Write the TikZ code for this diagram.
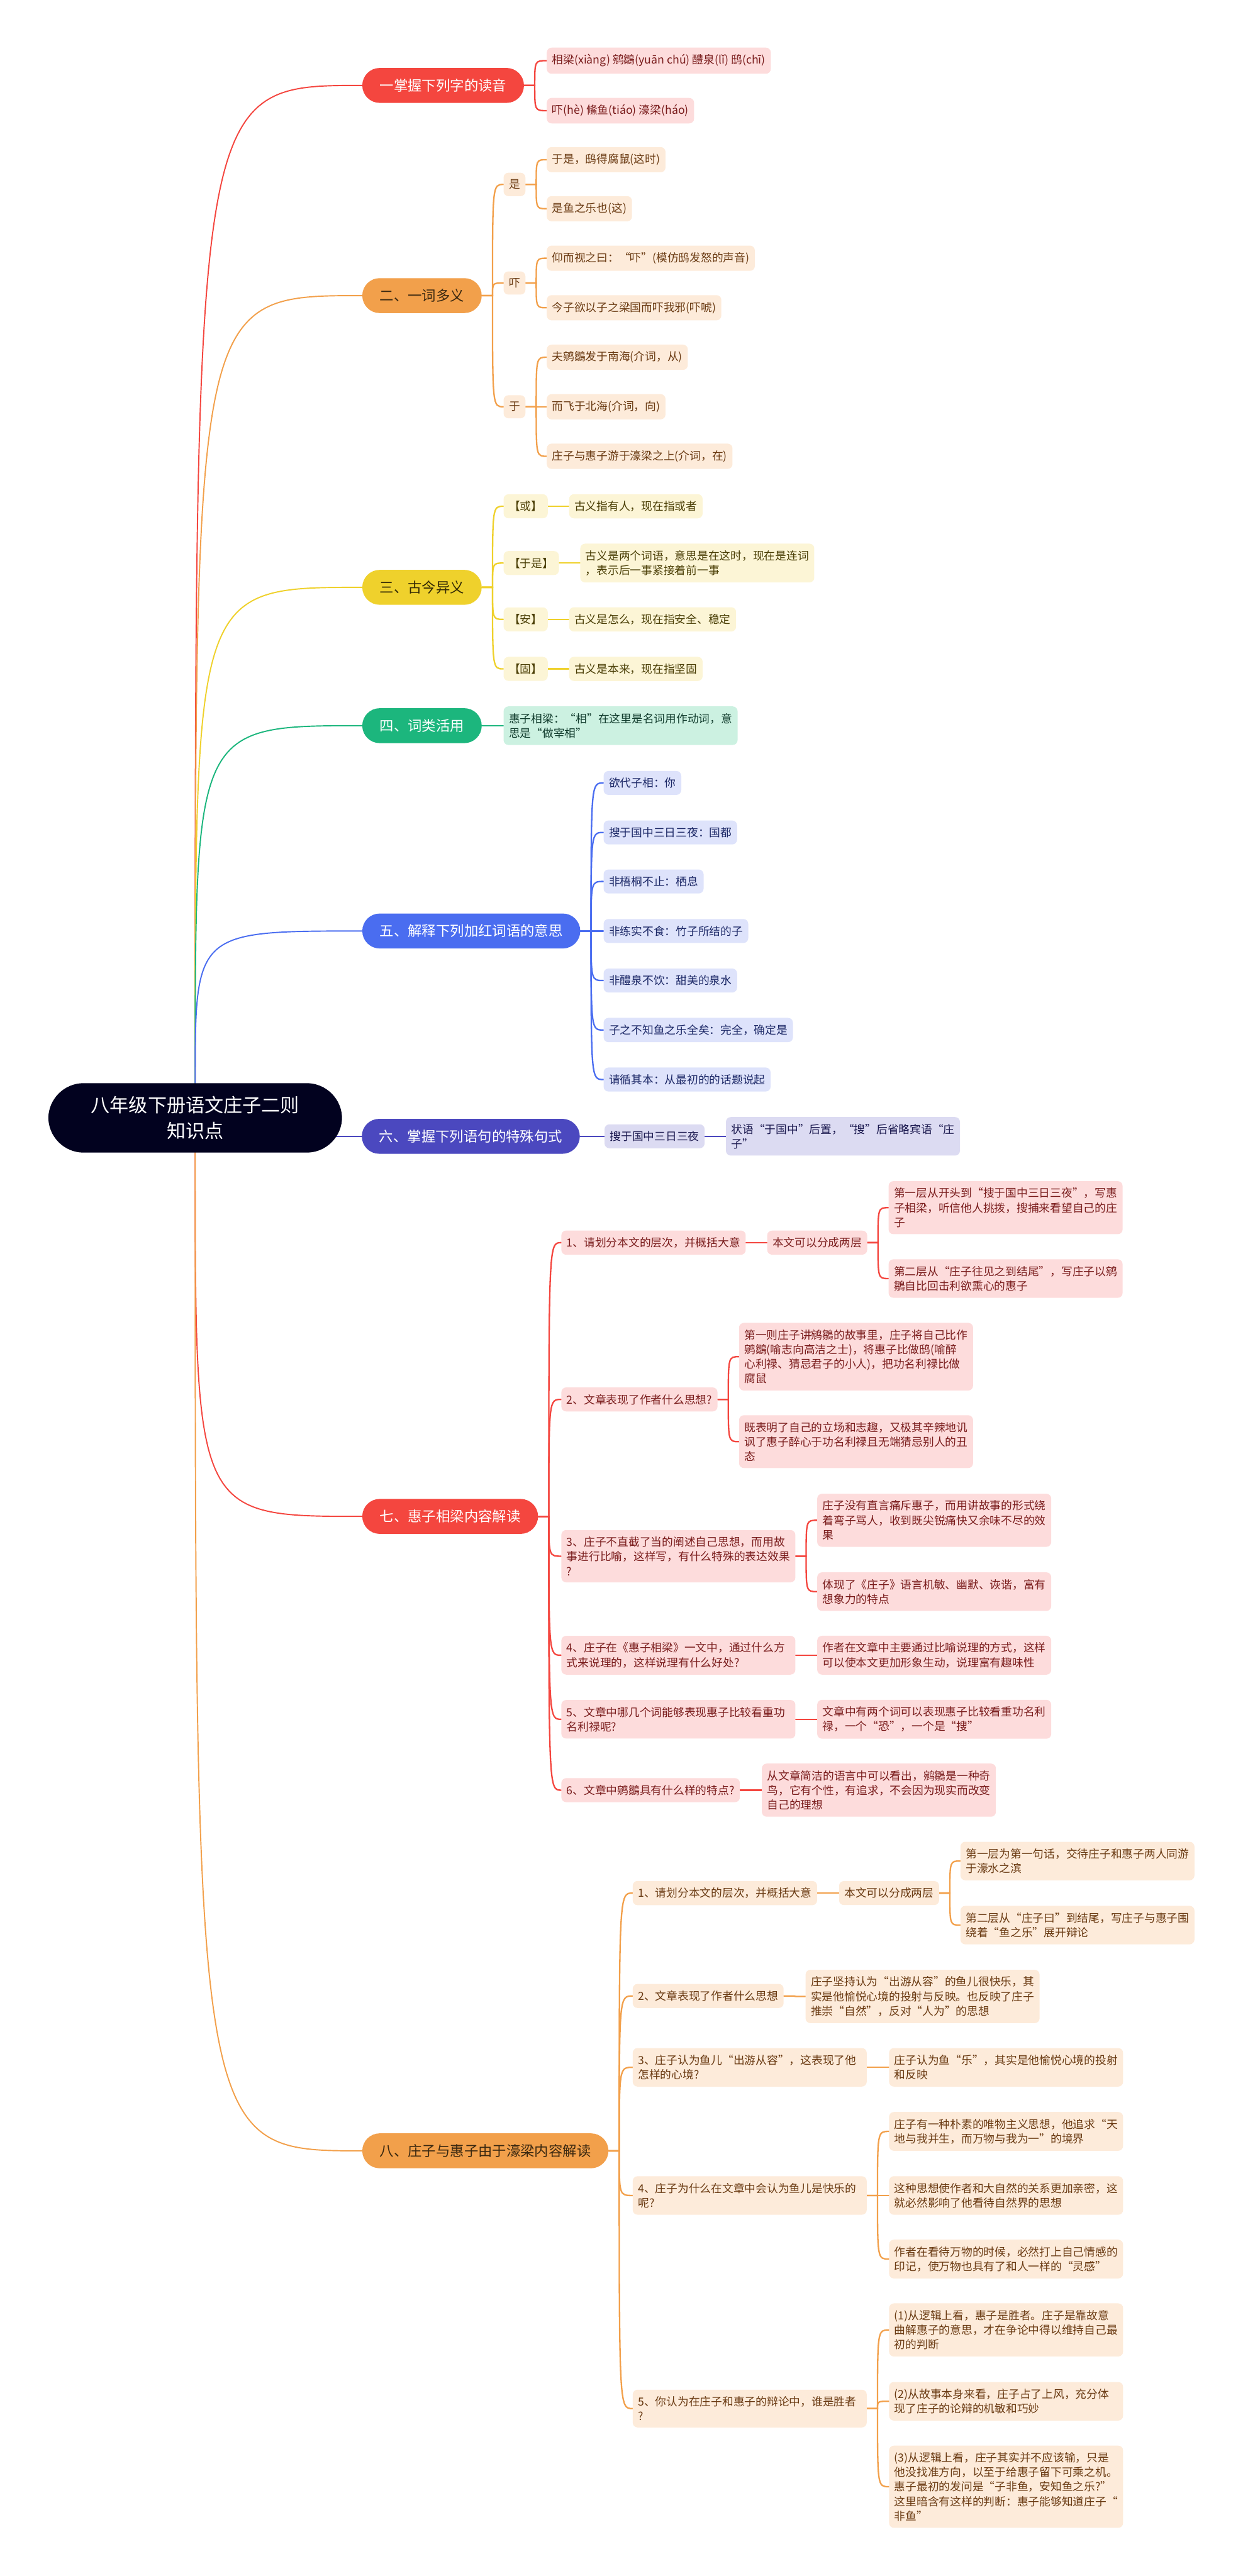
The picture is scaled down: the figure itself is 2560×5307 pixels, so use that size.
\documentclass[tikz,border=0pt]{standalone}
\usepackage{fontspec}
\setmainfont{Noto Sans CJK SC}
\usepackage{tikz}
\usetikzlibrary{positioning,calc,backgrounds}

% 颜色
\definecolor{zhong}{HTML}{02021F}
\definecolor{hong}{HTML}{F4463F}
\definecolor{hongdan}{HTML}{FDDCDC}
\definecolor{hongzi}{HTML}{7A1C1C}
\definecolor{cheng}{HTML}{F2A04B}
\definecolor{chengdan}{HTML}{FDEBDA}
\definecolor{chengzi}{HTML}{6A3A12}
\definecolor{chengshen}{HTML}{3A2810}
\definecolor{huang}{HTML}{EFD12C}
\definecolor{huangdan}{HTML}{FCF5D6}
\definecolor{huangzi}{HTML}{4A3E05}
\definecolor{huangshen}{HTML}{332A05}
\definecolor{lv}{HTML}{1CB67D}
\definecolor{lvdan}{HTML}{CCF1E1}
\definecolor{lvzi}{HTML}{0F3A2B}
\definecolor{lan}{HTML}{4A6DF0}
\definecolor{landan}{HTML}{DEE3FB}
\definecolor{lanzi}{HTML}{1B2766}
\definecolor{dian}{HTML}{4B48BF}
\definecolor{diandan}{HTML}{DCDBF2}
\definecolor{dianzi}{HTML}{1C1A50}

\tikzset{
  genjie/.style={fill=zhong, text=white, rounded corners=73pt, inner xsep=88pt,
    inner ysep=27pt, align=center, font=\fontsize{39}{53}\selectfont},
  zhuti/.style={anchor=west, rounded corners=36pt, minimum height=72pt,
    inner xsep=36pt, inner ysep=0pt, font=\fontsize{29}{36}\selectfont},
  yezi/.style={anchor=west, rounded corners=10pt, inner xsep=11pt,
    inner ysep=14pt, align=left, font=\fontsize{23}{30}\selectfont},
  kuan/.style={text width=460pt},
  hongye/.style={yezi, fill=hongdan, text=hongzi},
  chengye/.style={yezi, fill=chengdan, text=chengzi},
  huangye/.style={yezi, fill=huangdan, text=huangzi},
  lvye/.style={yezi, fill=lvdan, text=lvzi},
  lanye/.style={yezi, fill=landan, text=lanzi},
  dianye/.style={yezi, fill=diandan, text=dianzi},
  lianjie/.style={line width=3pt, line cap=round},
}

% 父节点 -> 子节点的连线
\newcommand{\lianxian}[3]{%
  \path (#2.east) ++(22,0) coordinate (zhuan);
  \draw[lianjie,#1] (#2.east) -- (zhuan) .. controls (zhuan |- #3.west) .. (#3.west);}
% 根节点 -> 主题的连线
\newcommand{\genxian}[3]{%
  \draw[lianjie,line width=2.5pt,#1] (#2) .. controls (#2 |- #3.west) .. (#3.west);}

\begin{document}
\begin{tikzpicture}[x=1pt,y=-1pt]
  \useasboundingbox (0,0) rectangle (2560,5307);

  % 根
  \node[genjie] (gen) at (402,2303) {八年级下册语文庄子二则\\知识点};

  % 一
  \node[zhuti, fill=hong, text=white] (b1) at (746,176) {一掌握下列字的读音};
  \node[hongye] (b1a) at (1126,125) {相梁(xiàng) 鹓鶵(yuān chú) 醴泉(lǐ) 鸱(chī)};
  \node[hongye] (b1b) at (1126,228) {吓(hè) 鯈鱼(tiáo) 濠梁(háo)};

  % 二
  \node[zhuti, fill=cheng, text=chengshen] (b2) at (746,609) {二、一词多义};
  \node[chengye] (s2a) at (1037,380) {是};
  \node[chengye] (s2a1) at (1126,329) {于是，鸱得腐鼠(这时)};
  \node[chengye] (s2a2) at (1126,430) {是鱼之乐也(这)};
  \node[chengye] (s2b) at (1037,583) {吓};
  \node[chengye] (s2b1) at (1126,532) {仰而视之曰：“吓”(模仿鸱发怒的声音)};
  \node[chengye] (s2b2) at (1126,634) {今子欲以子之梁国而吓我邪(吓唬)};
  \node[chengye] (s2c) at (1037,838) {于};
  \node[chengye] (s2c1) at (1126,736) {夫鹓鶵发于南海(介词，从)};
  \node[chengye] (s2c2) at (1126,838) {而飞于北海(介词，向)};
  \node[chengye] (s2c3) at (1126,940) {庄子与惠子游于濠梁之上(介词，在)};

  % 三
  \node[zhuti, fill=huang, text=huangshen] (b3) at (746,1210) {三、古今异义};
  \node[huangye] (s3a) at (1037,1043) {【或】};
  \node[huangye] (s3a1) at (1172,1043) {古义指有人，现在指或者};
  \node[huangye] (s3b) at (1037,1160) {【于是】};
  \node[huangye] (s3b1) at (1195,1160) {古义是两个词语，意思是在这时，现在是连词\\，表示后一事紧接着前一事};
  \node[huangye] (s3c) at (1037,1276) {【安】};
  \node[huangye] (s3c1) at (1172,1276) {古义是怎么，现在指安全、稳定};
  \node[huangye] (s3d) at (1037,1378) {【固】};
  \node[huangye] (s3d1) at (1172,1378) {古义是本来，现在指坚固};

  % 四
  \node[zhuti, fill=lv, text=white] (b4) at (746,1495) {四、词类活用};
  \node[lvye, kuan] (b4a) at (1037,1495) {惠子相梁：“相”在这里是名词用作动词，意\\思是“做宰相”};

  % 五
  \node[zhuti, fill=lan, text=white] (b5) at (746,1918) {五、解释下列加红词语的意思};
  \node[lanye] (b5a) at (1243,1613) {欲代子相：你};
  \node[lanye] (b5b) at (1243,1715) {搜于国中三日三夜：国都};
  \node[lanye] (b5c) at (1243,1816) {非梧桐不止：栖息};
  \node[lanye] (b5d) at (1243,1918) {非练实不食：竹子所结的子};
  \node[lanye] (b5e) at (1243,2020) {非醴泉不饮：甜美的泉水};
  \node[lanye] (b5f) at (1243,2122) {子之不知鱼之乐全矣：完全，确定是};
  \node[lanye] (b5g) at (1243,2224) {请循其本：从最初的的话题说起};

  % 六
  \node[zhuti, fill=dian, text=white] (b6) at (745,2341) {六、掌握下列语句的特殊句式};
  \node[dianye] (b6a) at (1245,2341) {搜于国中三日三夜};
  \node[dianye, kuan] (b6b) at (1495,2341) {状语“于国中”后置，“搜”后省略宾语“庄\\子”};

  % 七
  \node[zhuti, fill=hong, text=white] (b7) at (746,3124) {七、惠子相梁内容解读};
  \node[hongye] (q71) at (1156,2560) {1、请划分本文的层次，并概括大意};
  \node[hongye] (q71a) at (1580,2560) {本文可以分成两层};
  \node[hongye, kuan] (q71b) at (1830,2488) {第一层从开头到“搜于国中三日三夜”，写惠\\子相梁，听信他人挑拨，搜捕来看望自己的庄\\子};
  \node[hongye, kuan] (q71c) at (1830,2634) {第二层从“庄子往见之到结尾”，写庄子以鹓\\鶵自比回击利欲熏心的惠子};
  \node[hongye] (q72) at (1156,2883) {2、文章表现了作者什么思想?};
  \node[hongye, kuan] (q72a) at (1522,2795) {第一则庄子讲鹓鶵的故事里，庄子将自己比作\\鹓鶵(喻志向高洁之士)，将惠子比做鸱(喻醉\\心利禄、猜忌君子的小人)，把功名利禄比做\\腐鼠};
  \node[hongye, kuan] (q72b) at (1522,2970) {既表明了自己的立场和志趣，又极其辛辣地讥\\讽了惠子醉心于功名利禄且无端猜忌别人的丑\\态};
  \node[hongye, kuan] (q73) at (1156,3206) {3、庄子不直截了当的阐述自己思想，而用故\\事进行比喻，这样写，有什么特殊的表达效果\\?};
  \node[hongye, kuan] (q73a) at (1683,3132) {庄子没有直言痛斥惠子，而用讲故事的形式绕\\着弯子骂人，收到既尖锐痛快又余味不尽的效\\果};
  \node[hongye, kuan] (q73b) at (1683,3279) {体现了《庄子》语言机敏、幽默、诙谐，富有\\想象力的特点};
  \node[hongye, kuan] (q74) at (1156,3410) {4、庄子在《惠子相梁》一文中，通过什么方\\式来说理的，这样说理有什么好处?};
  \node[hongye, kuan] (q74a) at (1683,3410) {作者在文章中主要通过比喻说理的方式，这样\\可以使本文更加形象生动，说理富有趣味性};
  \node[hongye, kuan] (q75) at (1156,3542) {5、文章中哪几个词能够表现惠子比较看重功\\名利禄呢?};
  \node[hongye, kuan] (q75a) at (1683,3542) {文章中有两个词可以表现惠子比较看重功名利\\禄，一个“恐”，一个是“搜”};
  \node[hongye] (q76) at (1156,3688) {6、文章中鹓鶵具有什么样的特点?};
  \node[hongye, kuan] (q76a) at (1569,3688) {从文章简洁的语言中可以看出，鹓鶵是一种奇\\鸟，它有个性，有追求，不会因为现实而改变\\自己的理想};

  % 八
  \node[zhuti, fill=cheng, text=chengshen] (b8) at (746,4431) {八、庄子与惠子由于濠梁内容解读};
  \node[chengye] (q81) at (1303,3900) {1、请划分本文的层次，并概括大意};
  \node[chengye] (q81a) at (1728,3900) {本文可以分成两层};
  \node[chengye, kuan] (q81b) at (1978,3834) {第一层为第一句话，交待庄子和惠子两人同游\\于濠水之滨};
  \node[chengye, kuan] (q81c) at (1978,3966) {第二层从“庄子曰”到结尾，写庄子与惠子围\\绕着“鱼之乐”展开辩论};
  \node[chengye] (q82) at (1303,4112) {2、文章表现了作者什么思想};
  \node[chengye, kuan] (q82a) at (1659,4113) {庄子坚持认为“出游从容”的鱼儿很快乐，其\\实是他愉悦心境的投射与反映。也反映了庄子\\推崇“自然”，反对“人为”的思想};
  \node[chengye, kuan] (q83) at (1303,4259) {3、庄子认为鱼儿“出游从容”，这表现了他\\怎样的心境?};
  \node[chengye, kuan] (q83a) at (1831,4259) {庄子认为鱼“乐”，其实是他愉悦心境的投射\\和反映};
  \node[chengye, kuan] (q84) at (1303,4523) {4、庄子为什么在文章中会认为鱼儿是快乐的\\呢?};
  \node[chengye, kuan] (q84a) at (1831,4391) {庄子有一种朴素的唯物主义思想，他追求“天\\地与我并生，而万物与我为一”的境界};
  \node[chengye, kuan] (q84b) at (1831,4523) {这种思想使作者和大自然的关系更加亲密，这\\就必然影响了他看待自然界的思想};
  \node[chengye, kuan] (q84c) at (1831,4654) {作者在看待万物的时候，必然打上自己情感的\\印记，使万物也具有了和人一样的“灵感”};
  \node[chengye, kuan] (q85) at (1303,4962) {5、你认为在庄子和惠子的辩论中，谁是胜者\\?};
  \node[chengye, kuan] (q85a) at (1831,4800) {(1)从逻辑上看，惠子是胜者。庄子是靠故意\\曲解惠子的意思，才在争论中得以维持自己最\\初的判断};
  \node[chengye, kuan] (q85b) at (1831,4947) {(2)从故事本身来看，庄子占了上风，充分体\\现了庄子的论辩的机敏和巧妙};
  \node[chengye, kuan] (q85c) at (1831,5123) {(3)从逻辑上看，庄子其实并不应该输，只是\\他没找准方向，以至于给惠子留下可乘之机。\\惠子最初的发问是“子非鱼，安知鱼之乐?”\\这里暗含有这样的判断：惠子能够知道庄子“\\非鱼”};

  % 连线
  \begin{scope}[on background layer]
    \genxian{hong}{gen.north}{b1}
    \genxian{cheng}{gen.north}{b2}
    \genxian{huang}{gen.north}{b3}
    \genxian{lv}{gen.north}{b4}
    \genxian{lan}{gen.north}{b5}
    \draw[lianjie,dian] (gen.center |- b6.west) -- (b6.west);
    \genxian{hong}{gen.south}{b7}
    \genxian{cheng}{gen.south}{b8}

    \foreach \z in {b1a,b1b} {\lianxian{hong}{b1}{\z}}
    \foreach \z in {s2a,s2b,s2c} {\lianxian{cheng}{b2}{\z}}
    \foreach \z in {s2a1,s2a2} {\lianxian{cheng}{s2a}{\z}}
    \foreach \z in {s2b1,s2b2} {\lianxian{cheng}{s2b}{\z}}
    \foreach \z in {s2c1,s2c2,s2c3} {\lianxian{cheng}{s2c}{\z}}
    \foreach \z in {s3a,s3b,s3c,s3d} {\lianxian{huang}{b3}{\z}}
    \foreach \z in {a,b,c,d} {\lianxian{huang}{s3\z}{s3\z1}}
    \lianxian{lv}{b4}{b4a}
    \foreach \z in {a,b,c,d,e,f,g} {\lianxian{lan}{b5}{b5\z}}
    \lianxian{dian}{b6}{b6a}
    \lianxian{dian}{b6a}{b6b}

    \foreach \z in {1,...,6} {\lianxian{hong}{b7}{q7\z}}
    \lianxian{hong}{q71}{q71a}
    \foreach \z in {b,c} {\lianxian{hong}{q71a}{q71\z}}
    \foreach \z in {a,b} {\lianxian{hong}{q72}{q72\z}}
    \foreach \z in {a,b} {\lianxian{hong}{q73}{q73\z}}
    \lianxian{hong}{q74}{q74a}
    \lianxian{hong}{q75}{q75a}
    \lianxian{hong}{q76}{q76a}

    \foreach \z in {1,...,5} {\lianxian{cheng}{b8}{q8\z}}
    \lianxian{cheng}{q81}{q81a}
    \foreach \z in {b,c} {\lianxian{cheng}{q81a}{q81\z}}
    \lianxian{cheng}{q82}{q82a}
    \lianxian{cheng}{q83}{q83a}
    \foreach \z in {a,b,c} {\lianxian{cheng}{q84}{q84\z}}
    \foreach \z in {a,b,c} {\lianxian{cheng}{q85}{q85\z}}
  \end{scope}
\end{tikzpicture}
\end{document}
